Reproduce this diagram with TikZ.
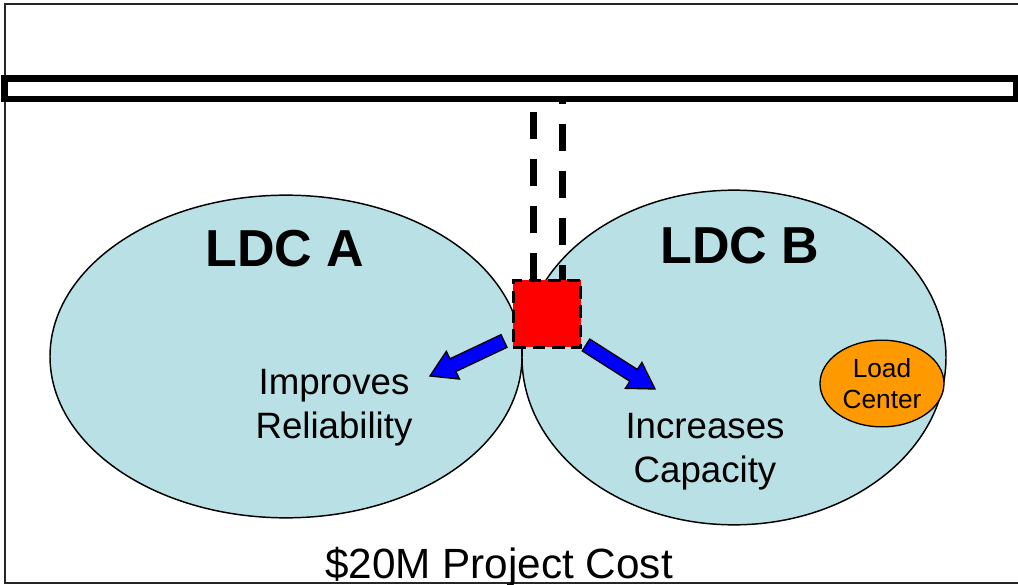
\documentclass[tikz,border=0pt]{standalone}
\usepackage{fontspec}
\setmainfont{Liberation Sans}
\usetikzlibrary{shapes.geometric, calc}
\definecolor{ldcfill}{RGB}{185,224,228}
\definecolor{loadorange}{RGB}{255,153,0}

\begin{document}
\begin{tikzpicture}[x=0.75pt, y=-0.75pt,
ldcnode/.style={ellipse, draw=black, fill=ldcfill, line width=1.1pt, inner sep=0pt},
loadnode/.style={ellipse, draw=black, fill=loadorange, line width=1pt, inner sep=0pt, minimum width=93pt, minimum height=65pt},
busnode/.style={rectangle, draw=black, fill=white, line width=4.9pt, inner sep=0pt, outer sep=0pt, minimum width=759pt, minimum height=15.4pt},
subnode/.style={rectangle, draw=black, fill=red, line width=2.2pt, dash pattern=on 9.5pt off 5pt, inner sep=0pt, outer sep=0pt, minimum size=50.5pt},
feeder/.style={draw=black, line width=5pt, dash pattern=on 20.25pt off 15pt},
flow/.style={draw=black, fill=blue, line width=1pt, line join=miter},
ldclabel/.style={font=\fontsize{39}{46}\selectfont\bfseries, anchor=base},
textnode/.style={font=\fontsize{27.5}{33}\selectfont, align=center},
]
\useasboundingbox (0,0) rectangle (1018,585);
%Frame
\draw[line width=1.4pt, black!85] (1030,4) -- (5,4) -- (5,583) -- (1030,583);

%Nodes
\node[ldcnode, minimum width=354pt, minimum height=242pt] (ldcA) at (286,356.5) {};
\node[ldcnode, minimum width=318pt, minimum height=251pt] (ldcB) at (734,357.5) {};
\node[loadnode] (load) at (882,383.5) {};
\node[font=\fontsize{19.7}{23}\selectfont, align=center] (loadtext) at (load.center) {Load\\Center};

\coordinate (busref) at (510.5,88.75);
\node[subnode] (sub) at (547,313.7) {};

%Feeders
\draw[feeder] ([xshift=-10.3pt]sub.north) -- ([xshift=-10.3pt]sub.north |- busref);
\draw[feeder] ([xshift=11.8pt]sub.north |- 0,77) -- ([xshift=11.8pt]sub.north);

\node[busnode] (bus) at (busref) {};
\node[subnode] at (sub.center) {};

%Arrows
\coordinate (startA) at (504,341);
\coordinate (tipA) at (430,376);
\coordinate (headA) at ($(tipA)!19pt!(startA)$);
\coordinate (startB) at (586,345);
\coordinate (tipB) at (655,389);
\coordinate (headB) at ($(tipB)!19pt!(startB)$);
\draw[flow] ($(startA)!5.25pt!90:(tipA)$) -- ($(headA)!5.25pt!90:(tipA)$) -- ($(headA)!11.5pt!90:(tipA)$)
  -- (tipA) -- ($(headA)!11.5pt!-90:(tipA)$) -- ($(headA)!5.25pt!-90:(tipA)$) -- ($(startA)!5.25pt!-90:(tipA)$) -- cycle;
\draw[flow] ($(startB)!5.25pt!90:(tipB)$) -- ($(headB)!5.25pt!90:(tipB)$) -- ($(headB)!11.5pt!90:(tipB)$)
  -- (tipB) -- ($(headB)!11.5pt!-90:(tipB)$) -- ($(headB)!5.25pt!-90:(tipB)$) -- ($(startB)!5.25pt!-90:(tipB)$) -- cycle;

%Labels
\node[ldclabel] (labelA) at (285,266) {LDC A};
\node[ldclabel] (labelB) at (740,263) {LDC B};
\node[textnode] (reliab) at (334,408) {Improves\\Reliability};
\node[textnode] (capac) at (705,452) {Increases\\Capacity};
\node[font=\fontsize{31.7}{38}\selectfont, anchor=base] (cost) at (499,578) {\$20M Project Cost};
\end{tikzpicture}
\end{document}
